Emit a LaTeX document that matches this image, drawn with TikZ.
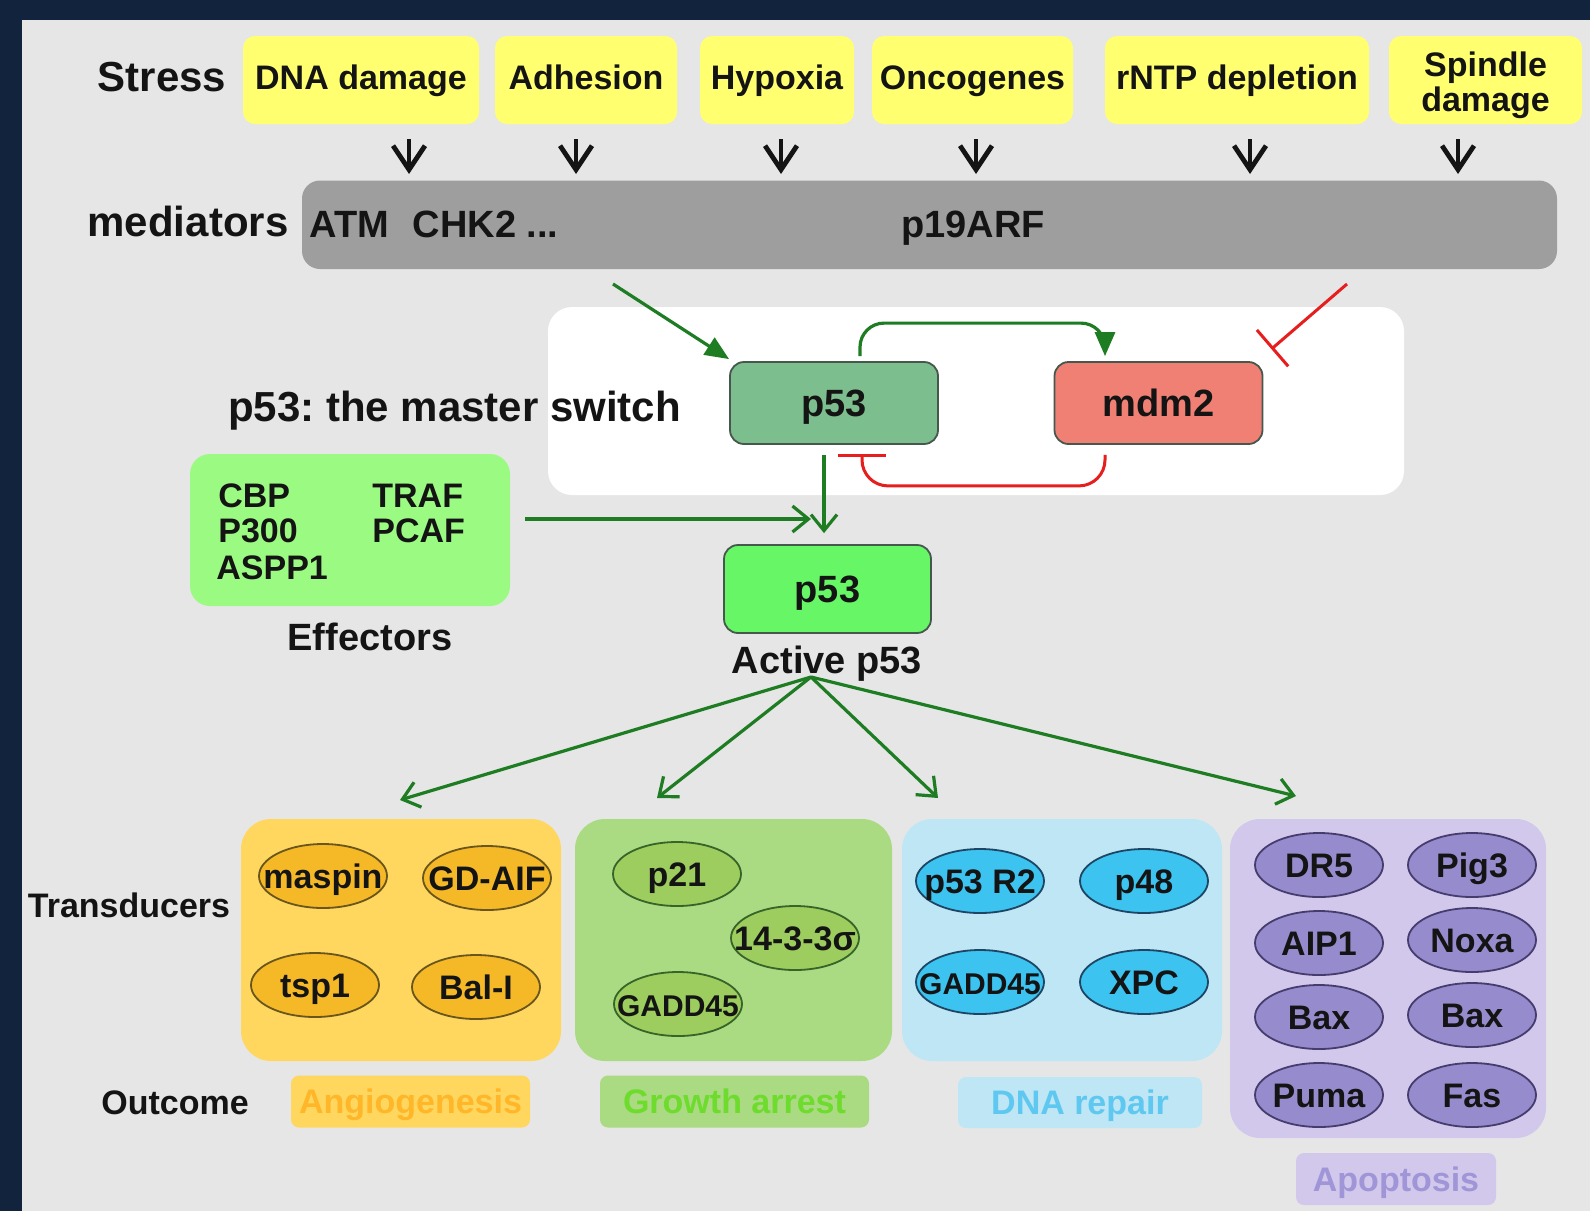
\documentclass[tikz,border=0pt]{standalone}
\usepackage{fontspec}
\setmainfont{Liberation Sans}
\usetikzlibrary{arrows.meta,shapes.geometric}

\definecolor{framenavy}{RGB}{18,35,62}
\definecolor{panelgray}{RGB}{230,230,230}
\definecolor{stressyellow}{RGB}{255,255,112}
\definecolor{mediatorgray}{RGB}{158,158,158}
\definecolor{p53dark}{RGB}{125,190,142}
\definecolor{mdmsalmon}{RGB}{241,128,116}
\definecolor{effectorgreen}{RGB}{155,250,130}
\definecolor{activegreen}{RGB}{102,246,102}
\definecolor{boxedge}{RGB}{70,88,78}
\definecolor{actgreen}{RGB}{30,125,35}
\definecolor{inhred}{RGB}{230,30,30}
\definecolor{inkblack}{RGB}{20,20,20}
% transducer groups
\definecolor{angbg}{RGB}{255,215,95}
\definecolor{angfill}{RGB}{245,185,40}
\definecolor{angedge}{RGB}{105,85,30}
\definecolor{angtext}{RGB}{255,182,40}
\definecolor{grobg}{RGB}{170,218,130}
\definecolor{grofill}{RGB}{158,205,95}
\definecolor{groedge}{RGB}{55,100,40}
\definecolor{grotext}{RGB}{110,220,45}
\definecolor{repbg}{RGB}{190,230,245}
\definecolor{repfill}{RGB}{60,195,240}
\definecolor{repedge}{RGB}{30,70,100}
\definecolor{reptext}{RGB}{95,200,240}
\definecolor{apobg}{RGB}{210,200,235}
\definecolor{apofill}{RGB}{150,140,205}
\definecolor{apoedge}{RGB}{70,60,110}
\definecolor{apotext}{RGB}{160,150,215}

\newcommand\setfs[1]{\fontsize{#1}{#1}\selectfont}
\newcommand\nowidth[1]{\makebox[0pt]{#1}}
\frenchspacing

\begin{document}
\begin{tikzpicture}[x=0.5pt,y=-0.5pt,
  every node/.style={text=inkblack},
  % text boxes are sized to the capital height, so node centres sit mid-capitals
  fs15/.style={font=\bfseries\setfs{15}, text height=10.7pt, text depth=0pt},
  fs17/.style={font=\bfseries\setfs{17}, text height=12.2pt, text depth=0pt},
  fs19/.style={font=\bfseries\setfs{19}, text height=13.6pt, text depth=0pt},
  fs21/.style={font=\bfseries\setfs{21}, text height=15pt, text depth=0pt},
  caption/.style={inner sep=0pt, fs#1},
  stressbox/.style={fill=stressyellow, rounded corners=6pt, minimum height=44pt,
    inner sep=0pt, align=center, font=\bfseries\fontsize{17}{17.5}\selectfont,
    text height=12.2pt, text depth=3pt},
  switchbox/.style={draw=boxedge, line width=0.9pt, rounded corners=7pt,
    minimum width=104pt, minimum height=41pt, inner sep=0pt, fs19},
  group/.style={rounded corners=15pt, minimum width=160pt, minimum height=121pt, inner sep=0pt},
  outcome/.style={rounded corners=4pt, minimum height=26pt, inner sep=0pt, fs17},
  gene/.style={ellipse, line width=0.9pt, minimum width=64pt, minimum height=32pt,
    inner sep=0pt, fs17},
  angio/.style={gene, fill=angfill, draw=angedge},
  growth/.style={gene, fill=grofill, draw=groedge},
  repair/.style={gene, fill=repfill, draw=repedge},
  apopt/.style={gene, fill=apofill, draw=apoedge},
  stressarrow/.style={draw=inkblack, line width=2.4pt, -{Straight Barb[length=12pt,width=16pt]}},
  openarrow/.style={draw=actgreen, line width=1.6pt, -{Straight Barb[length=8pt,width=13pt]}},
  fillarrow/.style={draw=actgreen, line width=1.6pt, -{Triangle[length=12pt,width=10pt]}},
  inhibit/.style={draw=inhred, line width=1.5pt, -{Bar[width=24pt,line width=1.5pt]}}]

% frame and panel
\useasboundingbox (0,0) rectangle (1590,1211);
\fill[framenavy] (0,0) rectangle (1590,1211);
\fill[panelgray] (22,20) rectangle (1590,1211);

% stress row
\node[caption=21] (stress) at (162,76) {Stress};
\node[stressbox, minimum width=118pt] (dna) at (361,80) {DNA damage};
\node[stressbox, minimum width=91pt] (adh) at (586,80) {Adhesion};
\node[stressbox, minimum width=77pt] (hyp) at (777,80) {Hypoxia};
\node[stressbox, minimum width=100.5pt] (onc) at (972.5,80) {Oncogenes};
\node[stressbox, minimum width=132pt] (rntp) at (1237,80) {rNTP depletion};
\node[stressbox, minimum width=96.5pt, text height=33.2pt, text depth=2pt] (spin) at (1485.5,80) {Spindle\\damage};

\foreach \x/\n in {409/1,576/2,781/3,976/4,1250/5,1458/6}{
  \coordinate (sa\n) at (\x,139);
  \coordinate (sb\n) at (\x,174);
  \draw[stressarrow] (sa\n) -- (sb\n);
}

% mediators
\node[caption=21] (medlabel) at (188,221) {mediators};
\node[fill=mediatorgray, rounded corners=9pt, minimum width=627.5pt, minimum height=44.25pt,
  inner sep=0pt] (med) at (929.5,224.75) {};
\node[caption=19, anchor=west] (atm) at (309,224) {ATM\hspace{0.35em} CHK2 ...};
\node[caption=19] (arf) at (973,224) {p19ARF};

% the master switch
\node[fill=white, rounded corners=12pt, minimum width=428pt, minimum height=94pt,
  inner sep=0pt] (switchpanel) at (976,401) {};
\node[caption=21] (switchlabel) at (454.5,406) {p53: the master switch};
\node[switchbox, fill=p53dark] (p53) at (834,403) {p53};
\node[switchbox, fill=mdmsalmon] (mdm2) at (1158.5,403) {mdm2};

\coordinate (medout) at (613,284);
\draw[fillarrow] (medout) -- ([shift={(0,-2)}]p53.north west);
\draw[fillarrow, rounded corners=12pt]
  ([shift={(26,-5)}]p53.north) -- ++(0,-33) -| ([shift={(-53.5,-5)}]mdm2.north);
\draw[inhibit, rounded corners=13pt]
  ([shift={(-53.5,10)}]mdm2.south) -- ++(0,31) -| ([shift={(28,9)}]p53.south);
\coordinate (arfout) at (1347,284);
\draw[inhibit] (arfout) -- ([shift={(8,-12)}]mdm2.north east);

% effectors and active p53
\node[fill=effectorgreen, rounded corners=10pt, minimum width=160pt, minimum height=76pt,
  inner sep=0pt] (eff) at (350,530) {};
\node[caption=17, anchor=west] (cbp) at (218,495) {CBP};
\node[caption=17, anchor=west] (traf) at (372,495) {TRAF};
\node[caption=17, anchor=west] (p300) at (218,530) {P300};
\node[caption=17, anchor=west] (pcaf) at (372,530) {PCAF};
\node[caption=17, anchor=west] (aspp) at (216,567) {ASPP1};
\node[caption=19] (efflabel) at (370,637) {Effectors};

\node[switchbox, fill=activegreen, minimum width=103.5pt, minimum height=44pt] (act) at (827.5,589) {p53};
\node[caption=19] (actlabel) at (827,660) {Active p53};

\draw[openarrow, shorten <=5pt]
  ([xshift=-5pt]p53.south) -- ([xshift=-5pt,yshift=5.5pt]p53.south |- act.north);
\coordinate (effin) at (811,519);
\draw[openarrow] ([shift={(15,-11)}]eff.east) -- (effin);

% transducer groups
\node[group, fill=angbg] (angio) at (401,940) {};
\node[group, fill=grobg, minimum width=158.5pt] (growth) at (733.5,940) {};
\node[group, fill=repbg] (repair) at (1062,940) {};
\node[group, fill=apobg, minimum width=158pt, minimum height=159.5pt] (apopt) at (1388,978.5) {};

\coordinate (fan) at (811,677);
\coordinate (toang) at (400,800);
\coordinate (togro) at (657,798);
\coordinate (torep) at (938,798);
\coordinate (toapo) at (1296,796);
\foreach \t in {toang,togro,torep,toapo}
  \draw[openarrow] (fan) -- (\t);

\node[caption=17] (translabel) at (129,905) {Transducers};
\node[caption=17] (outlabel) at (175,1102) {Outcome};

\node[angio] (maspin) at (323,876) {\nowidth{maspin}};
\node[angio] (gdaif) at (487,878) {\nowidth{GD-AIF}};
\node[angio] (tsp) at (315,985) {\nowidth{tsp1}};
\node[angio] (bal) at (476,987) {\nowidth{Bal-I}};

\node[growth] (p21) at (677,874) {\nowidth{p21}};
\node[growth] (sigma) at (795,938) {\nowidth{14-3-3σ}};
\node[growth] (gaddg) at (678,1004) {\nowidth{\setfs{15}GADD45}};

\node[repair] (r2) at (980,881) {\nowidth{p53 R2}};
\node[repair] (p48) at (1144,881) {\nowidth{p48}};
\node[repair] (gaddr) at (980,982) {\nowidth{\setfs{15}GADD45}};
\node[repair] (xpc) at (1144,982) {\nowidth{XPC}};

\node[apopt] (dr5) at (1319,865) {\nowidth{DR5}};
\node[apopt] (pig3) at (1472,865) {\nowidth{Pig3}};
\node[apopt] (aip1) at (1319,943) {\nowidth{AIP1}};
\node[apopt] (noxa) at (1472,940) {\nowidth{Noxa}};
\node[apopt] (baxa) at (1319,1017) {\nowidth{Bax}};
\node[apopt] (baxb) at (1472,1015) {\nowidth{Bax}};
\node[apopt] (puma) at (1319,1095) {\nowidth{Puma}};
\node[apopt] (fas) at (1472,1095) {\nowidth{Fas}};

% outcomes
\node[outcome, fill=angbg, text=angtext, minimum width=119.5pt] (angout) at (410.5,1101.5) {Angiogenesis};
\node[outcome, fill=grobg, text=grotext, minimum width=134.5pt] (groout) at (734.5,1101.5) {Growth arrest};
\node[outcome, fill=repbg, text=reptext, minimum width=122pt, minimum height=25.5pt] (repout) at (1080,1102.5) {DNA repair};
\node[outcome, fill=apobg, text=apotext, minimum width=100pt] (apoout) at (1396,1179) {Apoptosis};

\end{tikzpicture}
\end{document}
